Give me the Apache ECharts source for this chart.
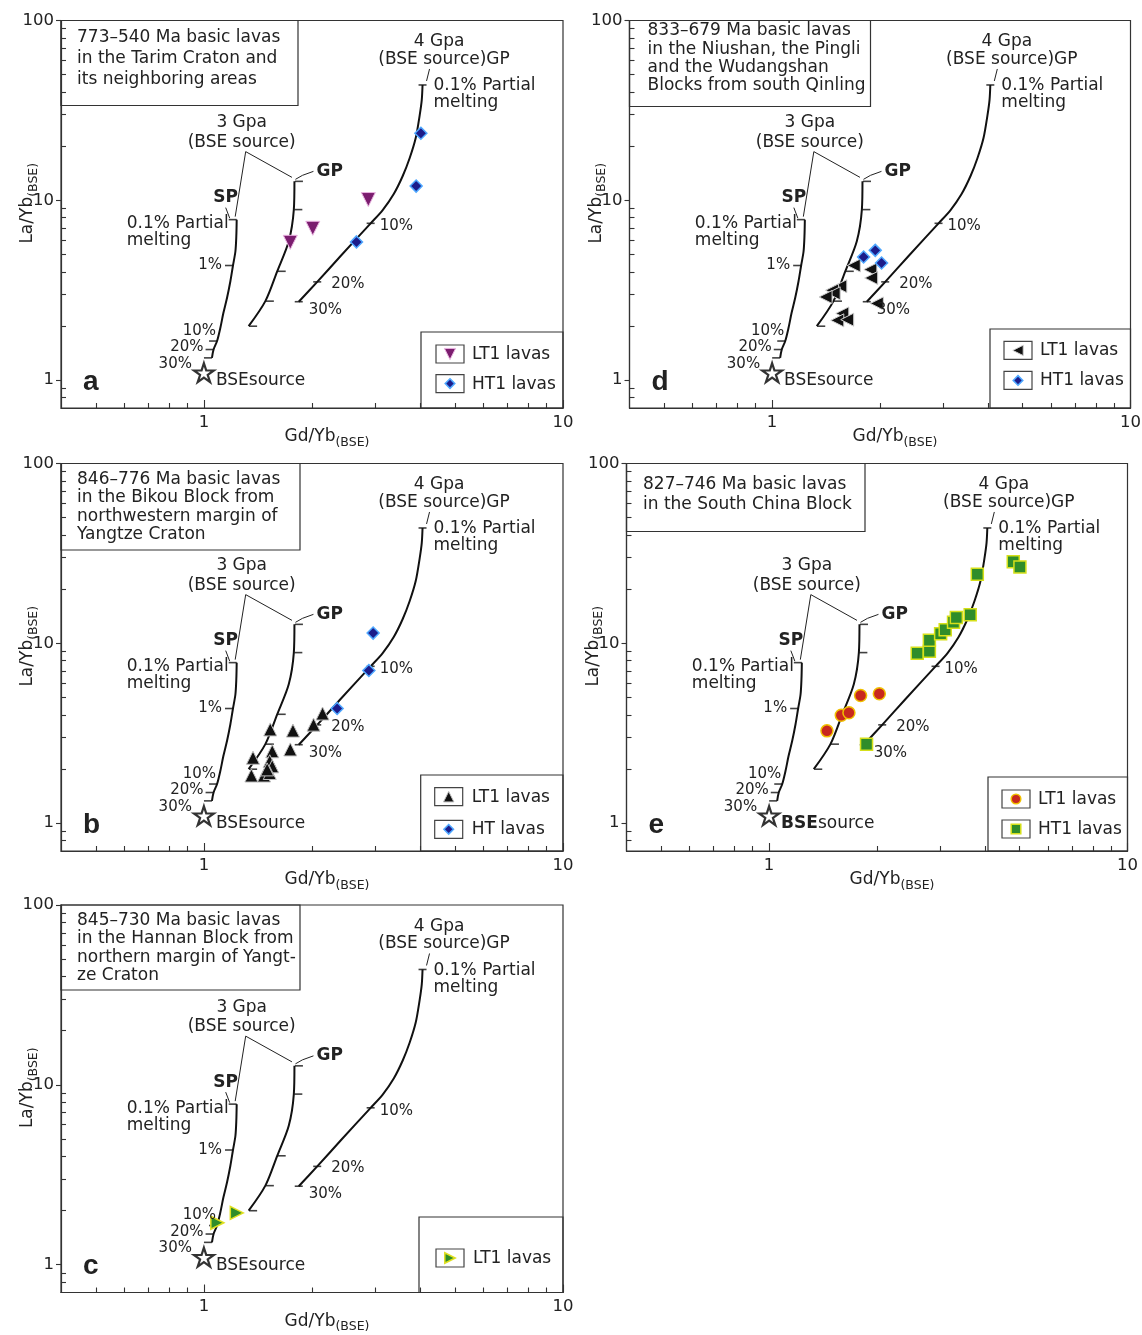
<!DOCTYPE html>
<html>
<head>
<meta charset="utf-8">
<script src="https://cdn.jsdelivr.net/npm/echarts@6/dist/echarts.min.js"></script>
<style>
  html, body { margin: 0; padding: 0; background: #fff; }
  #chart { width: 1142px; height: 1335px; }
</style>
</head>
<body>
<div id="chart"></div>
<script>
// axis ticks (log axes)
const xMajor = [1, 10];
const yMajor = [1, 10, 100];
const xMinor = [0.5, 0.6, 0.7, 0.8, 0.9, 2, 3, 4, 5, 6, 7, 8, 9];
const yMinor = [0.8, 0.9, 2, 3, 4, 5, 6, 7, 8, 9, 20, 30, 40, 50, 60, 70, 80, 90];

// melting model curves, [Gd/Yb, La/Yb]
const sp3Curve = [[1.234, 7.81], [1.231, 6.31], [1.224, 5.21], [1.205, 4.34], [1.185, 3.55], [1.16, 2.87],
  [1.133, 2.36], [1.111, 1.95], [1.088, 1.65], [1.064, 1.48], [1.053, 1.33]];
const sp3Ticks = [[1.234, 7.81], [1.205, 4.34], [1.088, 1.65], [1.064, 1.48], [1.053, 1.33]];
const sp3TickLabels = ['0.1%', '1%', '10%', '20%', '30%'];
const gp3Curve = [[1.787, 12.75], [1.78, 8.88], [1.723, 5.92], [1.60, 4.03], [1.483, 2.75], [1.332, 1.995]];
const gp3Ticks = [[1.787, 12.75], [1.78, 8.88], [1.60, 4.03], [1.483, 2.75], [1.332, 1.995]];
const gp4Curve = [[4.063, 43.8], [4.043, 36.2], [3.99, 29.8], [3.889, 22.2], [3.742, 17.2], [3.578, 13.65],
  [3.378, 10.84], [3.147, 8.83], [2.913, 7.45], [2.403, 4.90], [2.068, 3.52], [1.837, 2.73]];
const gp4Ticks = [[4.063, 43.8], [2.913, 7.45], [2.068, 3.52], [1.837, 2.73]];
const gp4TickLabels = ['0.1%', '10%', '20%', '30%'];
const bseSource = [[1.0, 1.1]];

// samples
const lt1A = [[1.74, 5.84], [2.01, 6.99], [2.87, 10.1]];
const ht1A = [[4.02, 23.6], [3.90, 12.0], [2.66, 5.87]];
const lt1D = [[1.69, 4.34], [1.88, 4.12], [1.89, 3.70], [1.55, 3.33], [1.47, 3.16], [1.485, 3.04],
  [1.41, 2.90], [1.96, 2.67], [1.57, 2.35], [1.52, 2.15], [1.62, 2.17]];
const ht1D = [[1.80, 4.84], [1.94, 5.27], [2.02, 4.48]];
const lt1B = [[1.53, 3.32], [1.77, 3.27], [2.14, 4.07], [2.02, 3.53], [1.74, 2.57], [1.55, 2.51], [1.37, 2.31],
  [1.525, 2.21], [1.55, 2.07], [1.356, 1.84], [1.47, 1.84], [1.525, 1.90], [1.50, 1.99]];
const htB = [[2.96, 11.4], [2.88, 7.06], [2.35, 4.34]];
const lt1E = [[1.45, 3.26], [1.59, 3.98], [1.67, 4.11], [1.80, 5.13], [2.03, 5.24]];
const ht1E = [[1.87, 2.75], [2.59, 8.80], [2.80, 9.03], [2.80, 10.4], [3.01, 11.3], [3.10, 11.9], [3.27, 13.1],
  [3.33, 13.9], [3.64, 14.4], [3.81, 24.2], [4.80, 28.4], [5.01, 26.6]];
const lt1C = [[1.09, 1.71], [1.235, 1.94]];

// panel captions
const titleA = ['773\u2013540 Ma basic lavas', 'in the Tarim Craton and', 'its neighboring areas'];
const titleD = ['833\u2013679 Ma basic lavas', 'in the Niushan, the Pingli', 'and the Wudangshan', 'Blocks from south Qinling'];
const titleB = ['846\u2013776 Ma basic lavas', 'in the Bikou Block from', 'northwestern margin of', 'Yangtze Craton'];
const titleE = ['827\u2013746 Ma basic lavas', 'in the South China Block'];
const titleC = ['845\u2013730 Ma basic lavas', 'in the Hannan Block from', 'northern margin of Yangt-', 'ze Craton'];

const FONT = 'DejaVu Sans';
const INK = '#222';
const STAR = 'path://M0,-10 L2.245,-3.09 L9.51,-3.09 L3.633,1.18 L5.88,8.09 L0,3.82 L-5.88,8.09 L-3.633,1.18 L-9.51,-3.09 L-2.245,-3.09 Z';

const purpleTri = { symbol: 'triangle', rotate: 180, size: 14, color: '#7b1d6f', border: '#e9b3e0', bw: 1 };
const blueDia = { symbol: 'diamond', size: 12, color: '#1c1c8a', border: '#4fa8ff', bw: 1.5 };
const blackLeft = { symbol: 'triangle', rotate: 90, size: 13, color: '#111', border: '#cfcfcf', bw: 1 };
const blackUp = { symbol: 'triangle', rotate: 0, size: 13, color: '#111', border: '#bdbdbd', bw: 1 };
const redDot = { symbol: 'circle', size: 12, color: '#c8281e', border: '#f0c000', bw: 1.5 };
const greenSq = { symbol: 'rect', size: 12, color: '#2f8d2a', border: '#d6e01a', bw: 1.5 };
const greenRight = { symbol: 'triangle', rotate: -90, size: 13, color: '#2f8d2a', border: '#e0e020', bw: 1.5 };

const panels = [
  { letter: 'a', rect: [61, 20.5, 502, 387.5], title: titleA, tBox: [237, 85, 16, 17, 21.2],
    lBox: [142, 76, 15, 51], rows: [22, 51.6],
    groups: [{ name: 'LT1 lavas', data: lt1A, m: purpleTri }, { name: 'HT1 lavas', data: ht1A, m: blueDia }] },
  { letter: 'd', rect: [629.5, 20.5, 501, 387.5], title: titleD, tBox: [241, 86, 18, 10.5, 18.2],
    lBox: [140.5, 79, 14, 50], rows: [21.4, 51.4],
    groups: [{ name: 'LT1 lavas', data: lt1D, m: blackLeft }, { name: 'HT1 lavas', data: ht1D, m: blueDia }] },
  { letter: 'b', rect: [61, 463.5, 502, 387.5], title: titleB, tBox: [239, 86.5, 16, 16, 18.3],
    lBox: [142.3, 76, 14, 51], rows: [21.7, 54.3],
    groups: [{ name: 'LT1 lavas', data: lt1B, m: blackUp }, { name: 'HT lavas', data: htB, m: blueDia }] },
  { letter: 'e', rect: [626.5, 463.5, 501, 387.5], title: titleE, tBox: [238.5, 68, 16.5, 21.5, 20],
    lBox: [139.5, 74, 14, 50], rows: [22, 52], boldBse: true,
    groups: [{ name: 'LT1 lavas', data: lt1E, m: redDot }, { name: 'HT1 lavas', data: ht1E, m: greenSq }] },
  { letter: 'c', rect: [61, 905, 502, 387.5], title: titleC, tBox: [239, 85, 16, 15.7, 18.2],
    lBox: [144, 75.5, 17, 54], rows: [41],
    groups: [{ name: 'LT1 lavas', data: lt1C, m: greenRight }] }
];

const chart = echarts.init(document.getElementById('chart'), null, { renderer: 'canvas' });

const grids = [], xAxes = [], yAxes = [], series = [];
const tickLine = { color: '#333', width: 1.1 };
const nameRich = {
  m: { fontSize: 17, fontFamily: FONT, color: INK, lineHeight: 24, verticalAlign: 'middle' },
  s: { fontSize: 12.5, fontFamily: FONT, color: INK, lineHeight: 24, verticalAlign: 'bottom' }
};

panels.forEach((p, i) => {
  const [l, t, w, h] = p.rect;
  grids.push({ left: l, top: t, width: w, height: h, show: true, borderColor: '#333', borderWidth: 1.2,
    containLabel: false, outerBoundsMode: 'none' });
  const axisBase = { gridIndex: i, type: 'log', logBase: 10, splitLine: { show: false } };
  xAxes.push(Object.assign({}, axisBase, {
    min: 0.4, max: 10, position: 'bottom',
    name: '{m|Gd/Yb}{s|(BSE)}', nameLocation: 'middle', nameGap: 17, nameMoveOverlap: false,
    nameTextStyle: { padding: [0, 0, 0, 30], rich: nameRich },
    axisLine: { show: true, lineStyle: { color: '#333', width: 1.2 } },
    axisTick: { show: true, inside: true, length: 8, customValues: xMajor, lineStyle: tickLine },
    axisLabel: { customValues: xMajor, fontSize: 16.5, fontFamily: FONT, color: INK, margin: 6 }
  }));
  xAxes.push(Object.assign({}, axisBase, {
    min: 0.4, max: 10, position: 'bottom',
    axisLine: { show: false }, axisLabel: { show: false },
    axisTick: { show: true, inside: true, length: 5, customValues: xMinor, lineStyle: tickLine }
  }));
  yAxes.push(Object.assign({}, axisBase, {
    min: 0.7, max: 100, position: 'left',
    name: '{m|La/Yb}{s|(BSE)}', nameLocation: 'middle', nameGap: 21, nameRotate: 90, nameMoveOverlap: false,
    nameTextStyle: { padding: [0, 0, 0, 22], rich: nameRich },
    axisLine: { show: true, lineStyle: { color: '#333', width: 1.2 } },
    axisTick: { show: true, inside: false, length: 5, customValues: yMajor, lineStyle: tickLine },
    axisLabel: { customValues: yMajor, fontSize: 16.5, fontFamily: FONT, color: INK, margin: 7 }
  }));
  yAxes.push(Object.assign({}, axisBase, {
    min: 0.7, max: 100, position: 'left',
    axisLine: { show: false }, axisLabel: { show: false },
    axisTick: { show: true, inside: true, length: 5, customValues: yMinor, lineStyle: tickLine }
  }));

  const ax = { xAxisIndex: 2 * i, yAxisIndex: 2 * i };
  const curve = (data) => Object.assign({ type: 'line', data, symbol: 'none', smooth: 0.3, silent: true,
    lineStyle: { color: '#111', width: 2 }, z: 3 }, ax);
  series.push(curve(sp3Curve), curve(gp3Curve), curve(gp4Curve));
  const ticks = (data, off) => Object.assign({ type: 'scatter', data, symbol: 'rect', symbolSize: [8, 1.6],
    symbolOffset: [off, 0], itemStyle: { color: '#111' }, silent: true, z: 3 }, ax);
  series.push(ticks(sp3Ticks, -4), ticks(gp3Ticks, 4.5), ticks(gp4Ticks, 0));
  series.push(Object.assign({ type: 'scatter', data: bseSource, symbol: STAR, symbolSize: [20, 19],
    itemStyle: { color: '#fff', borderColor: '#000', borderWidth: 2.2 }, silent: true, z: 4 }, ax));
  p.groups.forEach(g => {
    series.push(Object.assign({ type: 'scatter', name: g.name, data: g.data, symbol: g.m.symbol,
      symbolSize: g.m.size, symbolRotate: g.m.rotate || 0,
      itemStyle: { color: g.m.color, borderColor: g.m.border, borderWidth: g.m.bw, opacity: 1 }, z: 5 }, ax));
  });
});

chart.setOption({
  animation: false,
  backgroundColor: '#fff',
  textStyle: { fontFamily: FONT },
  grid: grids, xAxis: xAxes, yAxis: yAxes, series
});

// annotations anchored to the model curves through the axes
function markEl(m, cx, cy, k) {
  const s = m.size * k, h = s / 2;
  const style = { fill: m.color, stroke: m.border, lineWidth: m.bw };
  if (m.symbol === 'circle') return { type: 'circle', shape: { cx, cy, r: h }, style };
  if (m.symbol === 'rect') return { type: 'rect', shape: { x: cx - h, y: cy - h, width: s, height: s }, style };
  let pts = m.symbol === 'diamond' ? [[0, -h], [h, 0], [0, h], [-h, 0]] : [[0, -h], [h, h], [-h, h]];
  const a = (m.rotate || 0) * Math.PI / 180;
  pts = pts.map(([x, y]) => [cx + x * Math.cos(a) + y * Math.sin(a), cy - x * Math.sin(a) + y * Math.cos(a)]);
  return { type: 'polygon', shape: { points: pts }, style };
}

const els = [];
panels.forEach((p, i) => {
  const P = pt => chart.convertToPixel({ xAxisIndex: 2 * i, yAxisIndex: 2 * i }, pt);
  const txt = (x, y, text, o) => els.push({ type: 'text', silent: true, z: 100,
    style: Object.assign({ x, y, text, fontSize: 17, fontFamily: FONT, fill: INK,
      align: 'left', verticalAlign: 'middle', textAlign: 'left', textVerticalAlign: 'middle' }, o || {}) });
  const line = (pts, w) => els.push({ type: 'polyline', silent: true, z: 100, shape: { points: pts },
    style: { stroke: INK, lineWidth: w || 1, fill: null } });
  const box = (x, y, w, h) => els.push({ type: 'rect', silent: true, z: 90, shape: { x, y, width: w, height: h },
    style: { fill: 'transparent', stroke: '#333', lineWidth: 1.2 } });
  const R = { align: 'right', textAlign: 'right' }, C = { align: 'center', textAlign: 'center' };
  const B = { fontWeight: 'bold' };

  const sp = P(sp3Ticks[0]), gp = P(gp3Ticks[0]), g4 = P(gp4Ticks[0]), st = P(bseSource[0]);
  // 3 GPa bracket
  const apex = [sp[0] + 9, sp[1] - 68];
  line([[sp[0] - 1.5, sp[1] - 3], apex, [gp[0] - 2.5, gp[1] - 4]]);
  txt(apex[0] - 4, apex[1] - 29, '3 Gpa', C);
  txt(apex[0] - 4, apex[1] - 9.5, '(BSE source)', C);
  // SP
  line([[sp[0] - 11, sp[1] - 12], [sp[0] - 7, sp[1] - 1.5]]);
  txt(sp[0] - 11, sp[1] - 22, 'SP', Object.assign({}, C, B));
  txt(sp[0] - 110, sp[1] + 4, '0.1% Partial');
  txt(sp[0] - 110, sp[1] + 21, 'melting');
  const spOff = [null, [-11, 0], [-1, -10], [-10, -2], [-20, 6]];
  sp3Ticks.forEach((tk, k) => {
    if (!spOff[k]) return;
    const q = P(tk);
    txt(q[0] + spOff[k][0], q[1] + spOff[k][1], sp3TickLabels[k], Object.assign({ fontSize: 15 }, R));
  });
  // GP (3 GPa)
  line([[gp[0] + 1, gp[1] - 2], [gp[0] + 8, gp[1] - 6], [gp[0] + 19, gp[1] - 10]]);
  txt(gp[0] + 22, gp[1] - 10, 'GP', B);
  // 4 GPa
  line([[g4[0] + 4, g4[1] - 4], [g4[0] + 7, g4[1] - 16]]);
  txt(g4[0] + 16.5, g4[1] - 43, '4 Gpa', C);
  txt(g4[0] + 21.5, g4[1] - 25.5, '(BSE source)GP', C);
  txt(g4[0] + 11, g4[1] + 1, '0.1% Partial');
  txt(g4[0] + 11, g4[1] + 18, 'melting');
  const g4Off = [null, [9, 3], [14, 2], [10, 8]];
  gp4Ticks.forEach((tk, k) => {
    if (!g4Off[k]) return;
    const q = P(tk);
    txt(q[0] + g4Off[k][0], q[1] + g4Off[k][1], gp4TickLabels[k], { fontSize: 15 });
  });
  // BSE source
  if (p.boldBse) {
    txt(st[0] + 12, st[1] + 8, '{b|BSE}source', { rich: { b: { fontWeight: 'bold', fontSize: 17, fontFamily: FONT, fill: INK } } });
  } else {
    txt(st[0] + 12, st[1] + 8, 'BSEsource');
  }

  const [l, t, w, h] = p.rect;
  // panel letter
  txt(l + 22, t + h - 26, p.letter, { fontSize: 28, fontWeight: 'bold', fontFamily: 'Liberation Sans' });
  // caption box
  const [bw, bh, pad, first, step] = p.tBox;
  box(l, t, bw, bh);
  p.title.forEach((s, k) => txt(l + pad, t + first + k * step, s));
  // legend box
  const [lw, lh, fx, tx] = p.lBox;
  const lx = l + w - lw, ly = t + h - lh;
  box(lx, ly, lw, lh);
  p.groups.forEach((g, k) => {
    const cy = ly + p.rows[k];
    els.push({ type: 'rect', silent: true, z: 95, shape: { x: lx + fx, y: cy - 9, width: 28, height: 18 },
      style: { fill: '#fff', stroke: '#444', lineWidth: 1.2 } });
    els.push(Object.assign(markEl(g.m, lx + fx + 14, cy, 0.8), { silent: true, z: 96 }));
    txt(lx + tx, cy + 0.5, g.name);
  });
});

chart.setOption({ graphic: { elements: els } });
window.addEventListener('resize', () => chart.resize());
</script>
</body>
</html>
